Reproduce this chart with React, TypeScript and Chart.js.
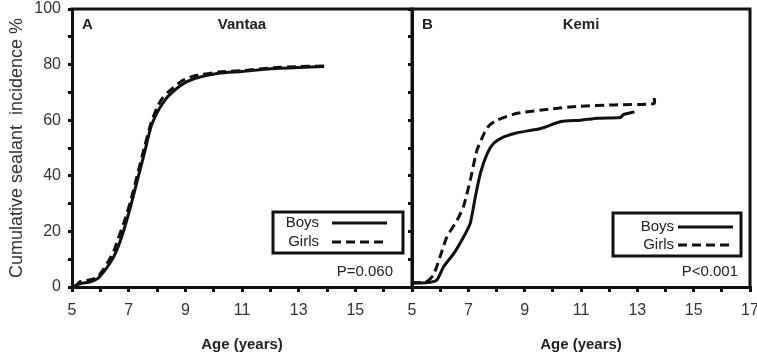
import React, { useEffect, useRef } from 'react';
import { Chart, registerables } from 'chart.js';
Chart.register(...registerables);

const FONT = '"Liberation Sans", Arial, sans-serif';

// Panel A – Vantaa
const vantaaBoysAge = [5.0, 5.3, 5.65, 5.9, 6.12, 6.3, 6.48, 6.65, 6.83, 7.07, 7.31, 7.55, 7.79, 8.02, 8.2, 8.38, 8.86, 9.33, 10.17, 11.0, 12.0, 13.0, 13.9];
const vantaaBoys = [0, 1.2, 1.9, 3, 5.5, 8, 11, 15, 20.5, 29, 38.5, 48, 57.7, 63, 66, 68.5, 72.7, 75, 76.9, 77.5, 78.5, 79, 79.3];
const vantaaGirlsAge = [5.1, 5.3, 5.6, 5.9, 6.12, 6.3, 6.48, 6.65, 6.83, 7.07, 7.31, 7.55, 7.79, 8.02, 8.2, 8.38, 8.86, 9.33, 10.17, 11.0, 12.0, 13.0, 13.9];
const vantaaGirls = [0, 2, 2.5, 3.5, 6.5, 9.5, 13, 18, 23, 31, 40.5, 50, 59, 65, 68, 70, 74, 76, 77.3, 77.8, 78.8, 79.3, 79.5];

// Panel B – Kemi
const kemiBoysAge = [5.0, 5.5, 5.88, 6.12, 6.48, 6.83, 7.07, 7.25, 7.43, 7.67, 7.9, 8.26, 8.74, 9.57, 10.29, 11.0, 11.6, 12.4, 12.5, 12.9];
const kemiBoys = [1.5, 1.5, 2.5, 7.3, 12, 18, 23, 32.5, 41, 48, 51.7, 54, 55.5, 57, 59.5, 60, 60.7, 61, 62, 63];
const kemiGirlsAge = [5.0, 5.5, 5.76, 6.0, 6.24, 6.6, 6.83, 7.07, 7.3, 7.55, 7.73, 8.02, 8.74, 9.93, 10.9, 12.2, 13.6, 13.6];
const kemiGirls = [1.5, 1.9, 4.3, 11, 18, 24, 29, 38.5, 49, 55, 58, 60, 62.5, 64, 65, 65.5, 66, 68];

const xTicksLabelled = [5, 7, 9, 11, 13, 15, 17];
const yTicksLabelled = [0, 20, 40, 60, 80, 100];

const seriesLabels = ['Boys', 'Girls'];

const toPoints = (xs: number[], ys: number[]) => xs.map((x, i) => ({ x, y: ys[i] }));

type LegendCfg = {
  right: number; width: number; bottom: number; height: number;
  textRight: number; lineFrom: number; lineTo: number; row1: number; row2: number;
};

type PanelCfg = {
  left: number;
  width: number;
  letter: string;
  title: string;
  pText: string;
  pRight: number;
  showYLabels: boolean;
  yWidth: number;
  padRight: number;
  hideLast: boolean;
  boysX: number[]; boysY: number[]; girlsX: number[]; girlsY: number[];
  legend: LegendCfg;
};

const overlayPlugin = {
  id: 'panelOverlay',
  afterDraw(chart: any) {
    const cfg = chart.options.plugins.panelOverlay as PanelCfg;
    const { ctx, chartArea } = chart;
    const { left, right, top, bottom } = chartArea;
    ctx.save();
    // frame top and right
    ctx.strokeStyle = '#111';
    ctx.lineWidth = 3;
    ctx.beginPath();
    ctx.moveTo(left - 1.5, top);
    ctx.lineTo(right, top);
    ctx.lineTo(right, bottom + 1.5);
    ctx.stroke();

    // letter & title
    ctx.fillStyle = '#222';
    ctx.font = `bold 15px ${FONT}`;
    ctx.textBaseline = 'middle';
    ctx.textAlign = 'left';
    ctx.fillText(cfg.letter, left + 10, top + 16);
    ctx.textAlign = 'center';
    ctx.fillText(cfg.title, (left + right) / 2, top + 16);

    // p value
    ctx.font = `15px ${FONT}`;
    ctx.textAlign = 'right';
    ctx.fillText(cfg.pText, right - cfg.pRight, bottom - 15);

    // legend
    const lg = cfg.legend;
    const bx = right + lg.right - lg.width;
    const by = bottom + lg.bottom - lg.height;
    ctx.lineWidth = 3;
    ctx.strokeStyle = '#111';
    ctx.strokeRect(bx, by, lg.width, lg.height);
    const rows = [lg.row1, lg.row2];
    chart.data.datasets.forEach((ds: any, i: number) => {
      const ry = by + rows[i];
      ctx.fillStyle = '#222';
      ctx.font = `15px ${FONT}`;
      ctx.textAlign = 'right';
      ctx.fillText(ds.label, bx + lg.textRight, ry);
      ctx.strokeStyle = '#111';
      ctx.lineWidth = 3;
      ctx.setLineDash(ds.borderDash || []);
      ctx.beginPath();
      ctx.moveTo(bx + lg.lineFrom, ry);
      ctx.lineTo(bx + lg.lineTo, ry);
      ctx.stroke();
      ctx.setLineDash([]);
    });
    ctx.restore();
  },
};

function Panel({ cfg }: { cfg: PanelCfg }) {
  const ref = useRef<HTMLCanvasElement>(null);
  useEffect(() => {
    if (!ref.current) return;
    const chart = new Chart(ref.current, {
      type: 'line',
      data: {
        datasets: [
          {
            label: seriesLabels[0],
            data: toPoints(cfg.boysX, cfg.boysY),
            borderColor: '#111',
            borderWidth: 3,
            pointRadius: 0,
            tension: 0.2,
            fill: false,
          },
          {
            label: seriesLabels[1],
            data: toPoints(cfg.girlsX, cfg.girlsY),
            borderColor: '#111',
            borderWidth: 3,
            borderDash: [9, 5],
            pointRadius: 0,
            tension: 0.2,
            fill: false,
          },
        ],
      },
      options: {
        responsive: false,
        animation: false,
        layout: { padding: { top: 9, right: cfg.padRight, left: 0, bottom: 0 } },
        plugins: {
          legend: { display: false },
          tooltip: { enabled: false },
          panelOverlay: cfg,
        } as any,
        scales: {
          x: {
            type: 'linear',
            min: 5,
            max: 17,
            afterFit: (s: any) => { s.height = 72; s.paddingRight = 0; s.paddingLeft = 0; },
            border: { display: true, color: '#111', width: 3 },
            grid: { drawOnChartArea: false, drawTicks: true, tickLength: 5, tickColor: '#111', lineWidth: 3 },
            ticks: {
              stepSize: 1,
              autoSkip: false,
              maxRotation: 0,
              padding: 9,
              color: '#333',
              font: { family: FONT, size: 16 },
              callback: (v: any) => {
                if (cfg.hideLast && v === 17) return '';
                return xTicksLabelled.includes(v) ? String(v) : '';
              },
            },
            title: {
              display: true,
              text: 'Age (years)',
              color: '#222',
              font: { family: FONT, size: 15, weight: 'bold' },
              padding: { top: 0, bottom: 5 },
            },
          },
          y: {
            type: 'linear',
            min: 0,
            max: 100,
            afterFit: (s: any) => { s.width = cfg.yWidth; s.paddingTop = 0; s.paddingBottom = 0; },
            border: { display: true, color: '#111', width: 3 },
            grid: { drawOnChartArea: false, drawTicks: true, tickLength: 4, tickColor: '#111', lineWidth: 3 },
            ticks: {
              stepSize: 10,
              autoSkip: false,
              padding: 7,
              color: '#333',
              font: { family: FONT, size: 16 },
              callback: (v: any) => (cfg.showYLabels && yTicksLabelled.includes(v) ? String(v) : ''),
            },
            title: {
              display: cfg.showYLabels,
              text: 'Cumulative sealant  incidence %',
              color: '#333',
              font: { family: FONT, size: 18, weight: 'normal' },
              padding: { top: 6, bottom: 0 },
            },
          },
        },
      },
      plugins: [overlayPlugin],
    } as any);
    return () => chart.destroy();
  }, [cfg]);
  return (
    <canvas
      ref={ref}
      width={cfg.width}
      height={359}
      style={{ position: 'absolute', left: cfg.left, top: 0, width: cfg.width, height: 359 }}
    />
  );
}

const panelA: PanelCfg = {
  left: 0,
  width: 420,
  letter: 'A',
  title: 'Vantaa',
  pText: 'P=0.060',
  pRight: 19,
  showYLabels: true,
  yWidth: 72,
  padRight: 8,
  hideLast: true,
  boysX: vantaaBoysAge, boysY: vantaaBoys, girlsX: vantaaGirlsAge, girlsY: vantaaGirls,
  legend: { right: -9, width: 130, bottom: -34, height: 41, textRight: 46, lineFrom: 59, lineTo: 114, row1: 11, row2: 30 },
};

const panelB: PanelCfg = {
  left: 400,
  width: 357,
  letter: 'B',
  title: 'Kemi',
  pText: 'P<0.001',
  pRight: 12,
  showYLabels: false,
  yWidth: 12,
  padRight: 7,
  hideLast: false,
  boysX: kemiBoysAge, boysY: kemiBoys, girlsX: kemiGirlsAge, girlsY: kemiGirls,
  legend: { right: -9, width: 128, bottom: -31, height: 43, textRight: 61, lineFrom: 65, lineTo: 120, row1: 14, row2: 32 },
};

export default function App() {
  return (
    <div style={{ position: 'absolute', left: 0, top: 0, width: 757, height: 359, background: '#fff' }}>
      <Panel cfg={panelA} />
      <Panel cfg={panelB} />
    </div>
  );
}
